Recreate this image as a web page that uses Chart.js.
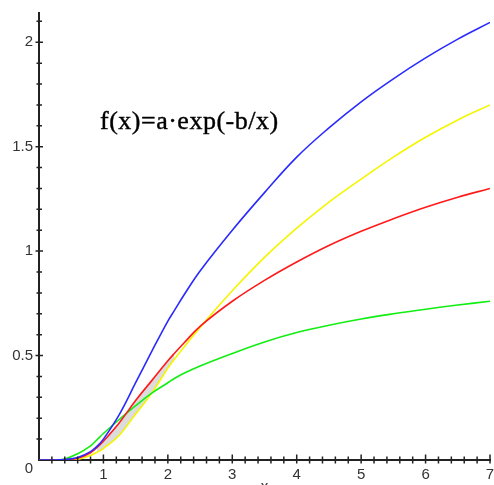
<!DOCTYPE html>
<html lang="en">

<head>
    <meta charset="UTF-8">
    <title>f(x)=a·exp(-b/x)</title>
    <style>
        html, body { margin: 0; padding: 0; background: #fff; overflow: hidden; }
        #wrap { width: 494px; height: 485px; }
    </style>
</head>

<body>
    <div id="wrap"><canvas id="expChart" width="494" height="485"></canvas></div>
    <script src="https://cdn.jsdelivr.net/npm/chart.js"></script>
    <script>
        // valores
        const xValues = [0, 0.2, 0.4, 0.6, 0.8, 0.9, 1, 1.25, 1.5, 1.75, 2, 2.1, 2.25, 2.5, 3, 3.5, 4, 4.5, 5, 5.5, 6, 6.5, 7];
        const blueValues = [0, 0, 0.002, 0.012, 0.04, 0.065, 0.10, 0.22, 0.37, 0.52, 0.665, 0.715, 0.79, 0.905, 1.10, 1.28, 1.45, 1.59, 1.715, 1.825, 1.925, 2.015, 2.095];
        const yellowValues = [0, 0, 0, 0.003, 0.022, 0.037, 0.055, 0.12, 0.22, 0.32, 0.44, 0.482, 0.54, 0.635, 0.81, 0.97, 1.11, 1.235, 1.345, 1.45, 1.545, 1.628, 1.70];
        const redValues = [0, 0, 0.001, 0.008, 0.035, 0.06, 0.09, 0.18, 0.285, 0.38, 0.475, 0.51, 0.56, 0.64, 0.76, 0.86, 0.948, 1.027, 1.095, 1.155, 1.21, 1.258, 1.30];
        const greenValues = [0, 0, 0.005, 0.03, 0.068, 0.097, 0.127, 0.195, 0.26, 0.32, 0.37, 0.39, 0.415, 0.45, 0.51, 0.565, 0.61, 0.645, 0.675, 0.70, 0.722, 0.742, 0.76];
        const shadeFrom = 0.9;   // faixa cinza entre vermelho e amarelo
        const shadeTo = 2.1;
        const xTickLabels = ['1', '2', '3', '4', '5', '6', '7'];
        const yTickLabels = ['0.5', '1', '1.5', '2'];
        const formula = 'f(x)=a·exp(-b/x)';

        const toPoints = (ys) => xValues.map((x, i) => ({ x: x, y: ys[i] }));
        const shadePoints = toPoints(redValues).filter(p => p.x >= shadeFrom - 1e-9 && p.x <= shadeTo + 1e-9);

        const near = (v, step) => Math.abs(v / step - Math.round(v / step)) < 1e-6;

        function lineSet(data, color) {
            return {
                data: data,
                borderColor: color,
                borderWidth: 1.6,
                pointRadius: 0,
                fill: false,
                tension: 0.4
            };
        }

        // marcas dos eixos (cruzando a linha) + textos
        const axisDecor = {
            id: 'axisDecor',
            afterDraw(chart) {
                const c = chart.ctx;
                const xs = chart.scales.x, ys = chart.scales.y;
                const ax = xs.getPixelForValue(0), ay = ys.getPixelForValue(0);
                c.save();
                c.strokeStyle = '#222';
                c.lineWidth = 1.5;
                c.beginPath();
                xs.ticks.forEach(t => {
                    if (t.value === 0) return;
                    const px = xs.getPixelForValue(t.value);
                    const major = near(t.value, 1);
                    c.moveTo(px, ay - (major ? 5.5 : 3.5));
                    c.lineTo(px, ay + 3.5);
                });
                ys.ticks.forEach(t => {
                    if (t.value === 0) return;
                    const py = ys.getPixelForValue(t.value);
                    const major = near(t.value, 0.5);
                    c.moveTo(ax - (major ? 3.5 : 2.5), py);
                    c.lineTo(ax + (major ? 4 : 3), py);
                });
                c.stroke();

                c.fillStyle = '#333';
                c.font = '15px "Liberation Sans", Arial, sans-serif';
                c.textAlign = 'center';
                c.textBaseline = 'middle';
                c.fillText('0', ax - 10, ay + 9);
                c.fillText('x', xs.getPixelForValue(3.5), ay + 27);

                c.fillStyle = '#000';
                c.strokeStyle = '#000';
                c.lineWidth = 0.4;
                c.font = '26px "Liberation Serif", "Times New Roman", serif';
                c.letterSpacing = '0.5px';
                c.textAlign = 'left';
                c.textBaseline = 'alphabetic';
                c.fillText(formula, 100, 129);
                c.strokeText(formula, 100, 129);
                c.restore();
            }
        };

        const ctx = document.getElementById('expChart').getContext('2d');
        const expChart = new Chart(ctx, {
            type: 'line',
            data: {
                datasets: [
                    lineSet(toPoints(blueValues), '#2a2aff'),
                    lineSet(toPoints(redValues), '#ff1a1a'),
                    lineSet(toPoints(greenValues), '#11ee11'),
                    lineSet(toPoints(yellowValues), '#f5f500'),
                    {
                        data: shadePoints,
                        borderWidth: 0,
                        borderColor: 'rgba(0,0,0,0)',
                        backgroundColor: '#dcdcdc',
                        pointRadius: 0,
                        fill: 3,
                        tension: 0.4
                    }
                ]
            },
            options: {
                responsive: false,
                animation: false,
                layout: { padding: { top: 13, right: 4, left: 0, bottom: 0 } },
                plugins: {
                    legend: { display: false },
                    tooltip: { enabled: false }
                },
                scales: {
                    x: {
                        type: 'linear',
                        min: 0,
                        max: 7,
                        grid: { display: false, drawTicks: false },
                        border: { display: true, color: '#222', width: 2 },
                        ticks: {
                            stepSize: 0.2,
                            autoSkip: false,
                            includeBounds: false,
                            maxRotation: 0,
                            padding: 6,
                            color: '#333',
                            font: { family: '"Liberation Sans", Arial, sans-serif', size: 15 },
                            callback: (v) => (near(v, 1) && v > 0) ? xTickLabels[Math.round(v) - 1] : ''
                        },
                        afterFit: (s) => { s.height = 25; s.paddingLeft = 0; s.paddingRight = 0; }
                    },
                    y: {
                        type: 'linear',
                        min: 0,
                        max: 2.14,
                        grid: { display: false, drawTicks: false },
                        border: { display: true, color: '#222', width: 2 },
                        ticks: {
                            stepSize: 0.1,
                            autoSkip: false,
                            includeBounds: false,
                            padding: 6,
                            color: '#333',
                            font: { family: '"Liberation Sans", Arial, sans-serif', size: 15 },
                            callback: (v) => (near(v, 0.5) && v > 0) ? yTickLabels[Math.round(v * 2) - 1] : ''
                        },
                        afterFit: (s) => { s.width = 39; s.paddingTop = 0; s.paddingBottom = 0; }
                    }
                }
            },
            plugins: [axisDecor]
        });
    </script>
</body>

</html>
